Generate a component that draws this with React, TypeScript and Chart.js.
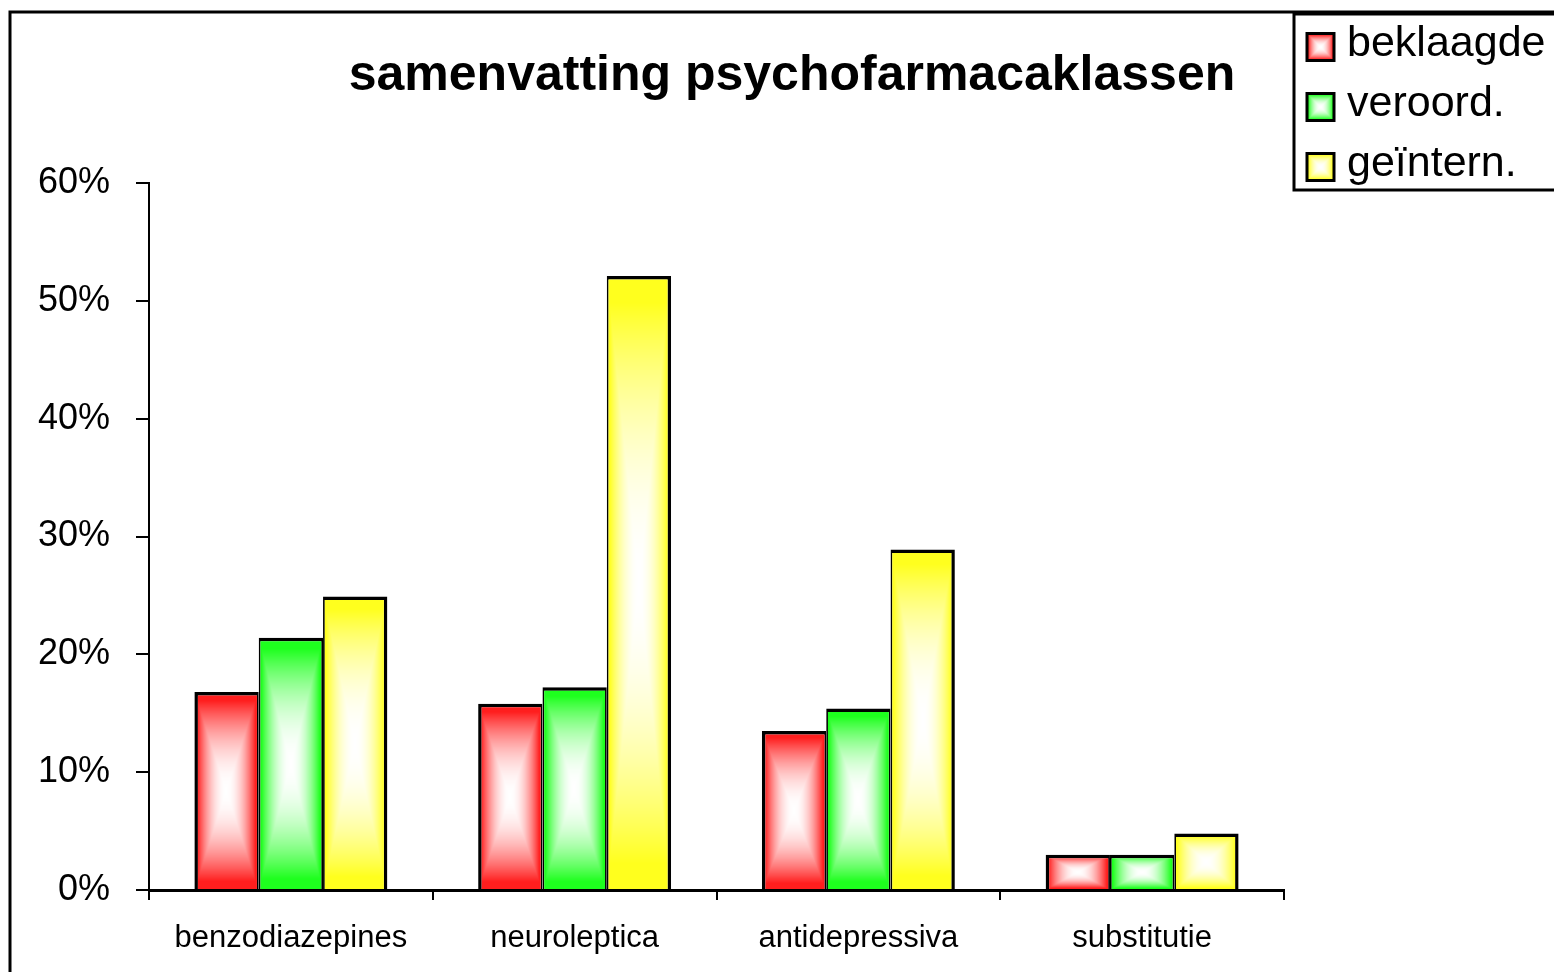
import React, { useEffect, useRef } from 'react';
import { Chart, registerables } from 'chart.js';

Chart.register(...registerables);

const TITLE = 'samenvatting psychofarmacaklassen';
const CATEGORIES = ['benzodiazepines', 'neuroleptica', 'antidepressiva', 'substitutie'];
const BEKLAAGDE = [16.8, 15.8, 13.5, 3.0];
const VEROORD = [21.4, 17.2, 15.4, 3.0];
const GEINTERN = [24.9, 52.1, 28.9, 4.8];
const SERIES_LABELS = ['beklaagde', 'veroord.', 'geïntern.'];
const SERIES_RGB = [
  [255, 30, 30],
  [30, 255, 30],
  [255, 255, 30],
];
const Y_MAX = 60;
const Y_STEP = 10;

const FONT = '"Liberation Sans", Arial, Helvetica, sans-serif';
const CAT_PCT = 0.68;

function gradientCanvas(w: number, h: number, rgb: number[]) {
  const c = document.createElement('canvas');
  c.width = Math.max(1, Math.round(w));
  c.height = Math.max(1, Math.round(h));
  const g = c.getContext('2d')!;
  const img = g.createImageData(c.width, c.height);
  const hw = c.width / 2;
  const hh = c.height / 2;
  for (let y = 0; y < c.height; y++) {
    for (let x = 0; x < c.width; x++) {
      const dx = Math.abs(x + 0.5 - hw) / hw;
      const dy = Math.abs(y + 0.5 - hh) / hh;
      const t = Math.max(dx, dy);
      const s = Math.min(1, Math.pow(t, 2) * 1.2);
      const i = (y * c.width + x) * 4;
      img.data[i] = 255 + (rgb[0] - 255) * s;
      img.data[i + 1] = 255 + (rgb[1] - 255) * s;
      img.data[i + 2] = 255 + (rgb[2] - 255) * s;
      img.data[i + 3] = 255;
    }
  }
  g.putImageData(img, 0, 0);
  return c;
}

function barFill(ctx: any) {
  const chart = ctx.chart;
  const rgb = SERIES_RGB[ctx.datasetIndex] || SERIES_RGB[0];
  const solid = `rgb(${rgb.join(',')})`;
  if (ctx.type !== 'data') return solid;
  const xs = chart.scales && chart.scales.x;
  const ys = chart.scales && chart.scales.y;
  if (!xs || !ys || !xs.width) return solid;
  const v = ctx.raw;
  if (typeof v !== 'number') return solid;
  const top = ys.getPixelForValue(v);
  const base = ys.getPixelForValue(0);
  const catW = xs.width / CATEGORIES.length;
  const barW = (catW * CAT_PCT) / 3;
  const left = xs.getPixelForValue(ctx.dataIndex) - (catW * CAT_PCT) / 2 + ctx.datasetIndex * barW;
  const h = base - top;
  if (h < 1 || barW < 1) return solid;
  const cv = gradientCanvas(barW, h, rgb);
  const pat = chart.ctx.createPattern(cv, 'no-repeat');
  if (!pat) return solid;
  pat.setTransform(new DOMMatrix([1, 0, 0, 1, left, top]));
  return pat;
}

const decorPlugin = {
  id: 'decor',
  beforeDraw(chart: any) {
    const c = chart.ctx;
    c.save();
    c.strokeStyle = '#000';
    c.lineWidth = 3;
    c.beginPath();
    c.moveTo(10, chart.height + 5);
    c.lineTo(10, 12);
    c.lineTo(chart.width + 5, 12);
    c.stroke();
    c.fillStyle = '#000';
    c.font = `bold 50px ${FONT}`;
    c.textAlign = 'center';
    c.textBaseline = 'alphabetic';
    c.fillText(TITLE, 792, 90);
    c.restore();
  },
  afterDraw(chart: any) {
    const c = chart.ctx;
    c.save();
    c.fillStyle = '#fff';
    c.fillRect(1294, 14, 300, 176);
    c.strokeStyle = '#000';
    c.lineWidth = 3;
    c.strokeRect(1294, 14, 300, 176);
    const baselines = [56, 116, 176];
    chart.data.datasets.forEach((ds: any, i: number) => {
      const cy = baselines[i] - 9;
      const size = 27;
      const gx = 1307;
      const gy = cy - size / 2;
      c.drawImage(gradientCanvas(size, size, SERIES_RGB[i]), gx, gy);
      c.lineWidth = 3;
      c.strokeStyle = '#000';
      c.strokeRect(gx, gy, size, size);
      c.fillStyle = '#000';
      c.font = `43px ${FONT}`;
      c.textAlign = 'left';
      c.textBaseline = 'alphabetic';
      c.fillText(ds.label, 1347, baselines[i]);
    });
    c.restore();
  },
};

export default function App() {
  const ref = useRef<HTMLCanvasElement | null>(null);
  useEffect(() => {
    if (!ref.current) return;
    Chart.defaults.font.family = FONT;
    Chart.defaults.color = '#000';
    const seriesData = [BEKLAAGDE, VEROORD, GEINTERN];
    const chart = new Chart(ref.current, {
      type: 'bar',
      data: {
        labels: CATEGORIES,
        datasets: seriesData.map((d, i) => ({
          label: SERIES_LABELS[i],
          data: d,
          backgroundColor: barFill,
          borderColor: '#000',
          borderWidth:
            i === 0
              ? { top: 3.5, left: 3.5, right: 1.75, bottom: 0 }
              : i === 2
              ? { top: 3.5, left: 1.75, right: 3.5, bottom: 0 }
              : { top: 3.5, left: 1.75, right: 1.75, bottom: 0 },
          categoryPercentage: CAT_PCT,
          barPercentage: 1,
        })),
      },
      options: {
        responsive: false,
        animation: false,
        layout: { padding: { left: 0, top: 183, right: 270, bottom: 0 } },
        plugins: {
          legend: { display: false },
          title: { display: false },
          tooltip: { enabled: false },
        },
        scales: {
          x: {
            offset: true,
            grid: {
              offset: true,
              drawOnChartArea: false,
              drawTicks: true,
              tickLength: 10,
              color: '#000',
              lineWidth: 2,
            },
            border: { display: true, color: '#000', width: 3 },
            ticks: {
              font: { size: 31 },
              color: '#000',
              padding: 20,
              maxRotation: 0,
            },
            afterFit: (s: any) => {
              s.height = 82;
            },
          },
          y: {
            min: 0,
            max: Y_MAX,
            grid: {
              drawOnChartArea: false,
              drawTicks: true,
              tickLength: 13,
              color: '#000',
              lineWidth: 2,
            },
            border: { display: true, color: '#000', width: 2 },
            ticks: {
              stepSize: Y_STEP,
              font: { size: 36 },
              color: '#000',
              padding: 26,
              callback: (v: any) => `${v}%`,
            },
            afterFit: (s: any) => {
              s.width = 149;
            },
          },
        },
      },
      plugins: [decorPlugin],
    });
    return () => chart.destroy();
  }, []);
  return (
    <div style={{ position: 'absolute', left: 0, top: 0, width: 1554, height: 972, background: '#fff' }}>
      <canvas ref={ref} width={1554} height={972} style={{ display: 'block' }} />
    </div>
  );
}
